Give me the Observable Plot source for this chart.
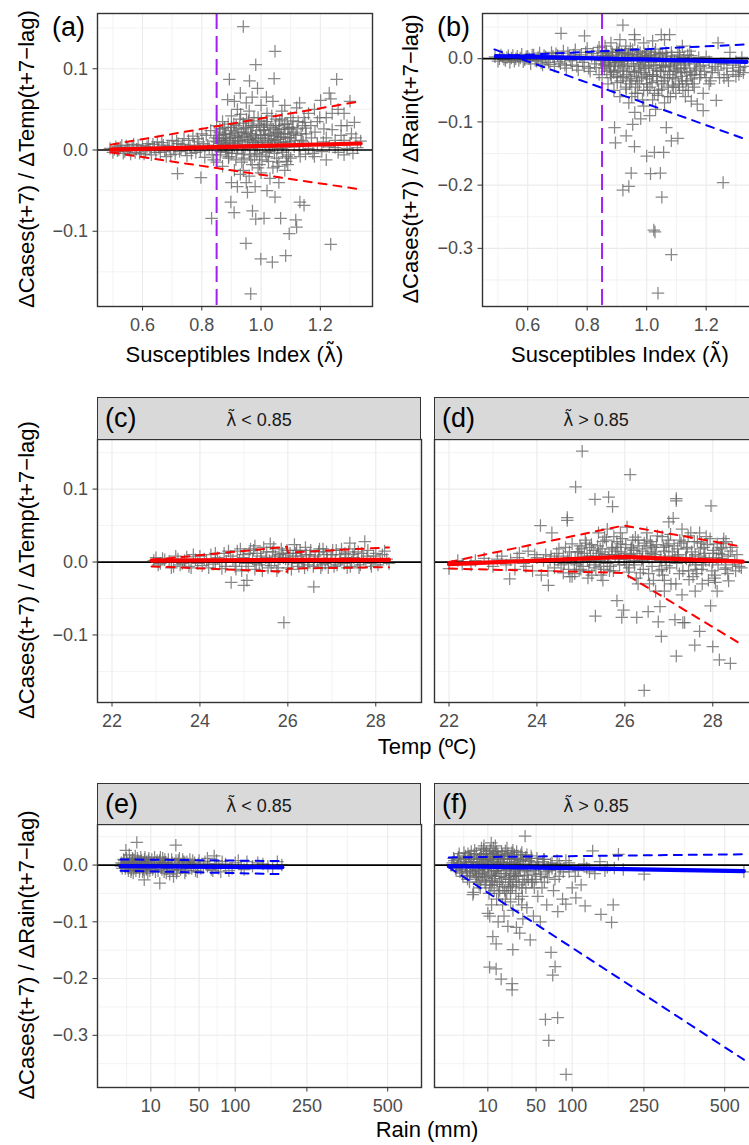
<!DOCTYPE html>
<html><head><meta charset="utf-8">
<script src="https://cdn.jsdelivr.net/npm/d3@7"></script>
<script src="https://cdn.jsdelivr.net/npm/@observablehq/plot@0.6"></script>
<style>
html,body{margin:0;padding:0;background:#fff;}
#fig{position:relative;width:749px;height:1145px;overflow:hidden;background:#fff;font-family:"Liberation Sans",Arial,Helvetica,sans-serif;}
.t{position:absolute;white-space:nowrap;line-height:1;color:#000;transform:translate(-50%,-50%);}
.rot{transform:translate(-50%,-50%) rotate(-90deg);}
.tag{position:absolute;white-space:nowrap;line-height:1;color:#000;transform:translateY(-50%);}
.strip{position:absolute;background:#D9D9D9;border:1.4px solid #333;box-sizing:border-box;}
.lam{font-family:"DejaVu Sans",sans-serif;font-size:0.95em;}
</style></head>
<body><div id="fig"></div>
<script>
// ---------- data ----------
const lamCut = [0.85];
// panel (a): susceptibles index vs dCases/dTemp
const ptsA = [[0.49,0.002],[0.50,-0.003],[0.51,0.004],[0.52,0.000],[0.53,0.006],[0.54,-0.002],[0.55,0.003],[0.56,-0.005],[0.57,0.007],[0.58,0.001],[0.59,-0.004],[0.60,0.005],[0.61,-0.001],[0.62,0.008],[0.63,-0.006],[0.64,0.003],[0.65,0.010],[0.66,-0.003],[0.67,0.006],[0.68,-0.008],[0.69,0.004],[0.70,0.012],[0.71,-0.005],[0.72,0.008],[0.718,-0.029],[0.73,0.002],[0.74,0.014],[0.75,-0.007],[0.76,0.005],[0.77,0.017],[0.78,-0.003],[0.79,0.010],[0.797,-0.034],[0.80,0.020],[0.81,-0.009],[0.82,0.006],[0.833,-0.084],[0.83,0.024],[0.84,-0.012],[0.84,0.011],
[0.85,0.030],[0.85,-0.015],[0.86,0.008],[0.86,0.022],[0.87,-0.020],[0.87,0.035],[0.88,0.003],[0.88,0.015],[0.887,0.062],[0.89,-0.010],[0.893,0.087],[0.90,0.028],[0.90,0.042],[0.898,-0.064],[0.909,-0.077],[0.91,0.005],[0.91,-0.025],[0.92,0.018],[0.92,0.050],[0.93,-0.030],[0.93,0.010],[0.94,0.152],[0.94,0.033],[0.94,-0.005],[0.949,-0.115],[0.95,0.022],[0.95,-0.040],[0.954,-0.052],[0.961,0.085],[0.96,0.013],[0.96,0.048],[0.965,-0.177],[0.97,-0.018],[0.971,-0.075],[0.97,0.028],[0.982,0.105],[0.98,0.003],[0.982,-0.085],[0.988,0.076],[0.99,0.040],[0.99,-0.022],[0.999,-0.134],[1.00,0.015],[1.00,0.055],[1.01,-0.084],[1.01,0.030],[1.018,0.065],[1.02,-0.008],[1.02,0.045],[1.03,0.020],[1.03,-0.035],[1.038,-0.138],[1.044,0.088],[1.047,0.1215],[1.047,-0.058],[1.05,0.010],[1.05,0.038],[1.06,-0.015],[1.06,0.025],[1.066,-0.084],[1.07,0.048],[1.07,0.002],[1.08,-0.025],[1.083,-0.130],[1.08,0.032],[1.09,0.015],[1.095,-0.103],[1.10,0.040],[1.10,-0.010],
[1.11,0.022],[1.117,-0.086],[1.12,-0.095],[1.12,0.052],[1.13,0.005],[1.131,-0.064],[1.145,-0.068],[1.14,0.030],[1.15,-0.005],[1.16,0.045],[1.17,0.015],[1.18,-0.008],[1.19,0.035],[1.201,0.061],[1.21,0.010],[1.22,-0.012],[1.22,0.040],[1.235,0.063],[1.235,-0.116],[1.24,0.025],[1.25,0.003],[1.255,0.087],[1.26,0.050],[1.27,0.018],[1.28,-0.006],[1.29,0.030],[1.30,0.008],[1.31,-0.004],[1.32,0.015],[1.336,0.011],
[0.855,0.004],[0.862,-0.006],[0.868,0.012],[0.875,0.019],[0.882,-0.003],[0.895,0.009],[0.905,0.016],[0.915,-0.012],[0.925,0.026],[0.935,0.001],[0.945,0.017],[0.955,0.006],[0.965,0.020],[0.975,0.009],[0.985,0.024],[0.995,-0.006],[1.005,0.003],[1.015,0.018],[1.025,0.007],[1.035,0.012],[1.045,-0.004],[1.055,0.021],[1.065,0.009],[1.075,0.016],[1.085,0.004],[1.095,0.026],[0.90,-0.040],[0.92,-0.045],[0.94,-0.025],[0.96,-0.032],[0.98,-0.045],[1.00,-0.028],[1.02,-0.050],[1.04,-0.022],[1.06,-0.040],[1.09,-0.018],[0.91,0.060],[0.93,0.070],[0.95,0.058],[0.97,0.065],[1.04,0.060],[1.08,0.055],[1.13,0.058],[1.15,0.027],[1.18,0.050],[1.23,0.070],[1.28,0.045],[1.30,0.060],
[0.505,0.001],[0.515,-0.001],[0.525,0.003],[0.535,-0.004],[0.545,0.005],[0.555,0.000],[0.565,0.003],[0.575,-0.003],[0.585,0.006],[0.595,0.000],[0.605,-0.005],[0.615,0.004],[0.625,0.001],[0.635,0.007],[0.645,-0.003],[0.655,0.002],[0.665,0.009],[0.675,-0.001],[0.685,0.005],[0.695,-0.006],[0.705,0.003],[0.715,0.011],[0.725,-0.002],[0.735,0.007],[0.745,0.000],[0.755,0.012],[0.765,-0.004],[0.775,0.006],[0.785,0.014],[0.795,-0.001],[0.805,0.008],[0.815,0.018],[0.825,0.002],[0.835,-0.006],[0.845,0.015],
[0.852,0.010],[0.858,0.018],[0.864,-0.002],[0.871,0.026],[0.878,0.007],[0.884,0.012],[0.891,-0.008],[0.897,0.020],[0.903,0.002],[0.908,0.032],[0.913,0.011],[0.918,-0.004],[0.923,0.015],[0.928,0.038],[0.933,0.021],[0.938,0.006],[0.943,-0.010],[0.948,0.028],[0.953,0.012],[0.958,0.036],[0.963,0.002],[0.968,0.016],[0.973,0.030],[0.978,-0.008],[0.983,0.014],[0.988,0.005],[0.993,0.032],[0.998,0.019],[1.003,-0.012],[1.008,0.025],[1.013,0.009],[1.018,0.035],[1.023,0.014],[1.028,-0.002],[1.033,0.028],[1.038,0.006],[1.043,0.017],[1.048,0.030],[1.053,-0.010],[1.058,0.013],[1.063,0.036],[1.068,0.020],[1.073,-0.003],[1.078,0.026],[1.083,0.010],[1.088,0.032],[1.093,-0.006],[1.098,0.015],[1.105,0.028],[1.112,0.004],[1.118,0.018],[1.125,0.035],[1.132,-0.008],[1.138,0.012],[1.145,0.040],[1.152,0.020],[1.16,0.002],[1.168,0.030],[1.175,-0.004],[1.182,0.022],[1.19,0.008],[1.198,0.040],[1.205,-0.002],[1.212,0.026],[1.22,0.015],[1.23,0.004],[1.24,0.045],[1.25,0.012],[1.26,-0.003],[1.27,0.030],[1.28,0.012],[1.29,0.002],[1.305,0.020],[1.315,0.034],[1.325,0.003],
[0.857,0.014],[0.861,0.026],[0.866,0.005],[0.873,0.010],[0.877,0.028],[0.881,0.020],[0.886,0.000],[0.889,0.032],[0.893,0.014],[0.899,0.024],[0.901,-0.004],[0.906,0.008],[0.911,0.022],[0.916,0.030],[0.921,0.003],[0.926,0.012],[0.931,0.044],[0.936,0.016],[0.941,0.026],[0.946,0.004],[0.951,0.038],[0.956,0.020],[0.961,-0.006],[0.966,0.030],[0.971,0.010],[0.976,0.040],[0.981,0.018],[0.986,-0.004],[0.991,0.012],[0.996,0.028],[1.001,0.036],[1.006,0.010],[1.011,0.024],[1.016,-0.003],[1.021,0.032],[1.026,0.018],[1.031,0.004],[1.036,0.042],[1.041,0.026],[1.046,0.012],[1.051,0.022],[1.056,0.002],[1.061,0.030],[1.066,0.016],[1.071,0.038],[1.076,0.006],[1.081,0.020],[1.086,-0.008],[1.091,0.028],[1.096,0.010],[1.102,0.020],[1.108,0.036],[1.115,0.012],[1.122,0.026],[1.128,0.000],[1.135,0.020],[1.142,0.010],[1.148,0.034],[0.935,-0.015],[0.965,-0.012],[0.995,-0.018],[1.025,-0.014],[1.055,-0.020],[1.085,-0.014]];
const fitA = [[0.493,0.0004],[1.336,0.008]];
const hiA = [[0.493,0.0066],[1.336,0.060]];
const loA = [[0.493,-0.003],[1.336,-0.0485]];

// panel (b): susceptibles index vs dCases/dRain
const ptsB = [[0.49,0.003],[0.50,-0.004],[0.51,0.006],[0.52,-0.001],[0.53,0.002],[0.54,-0.006],[0.55,0.005],[0.56,0.000],[0.57,-0.003],[0.58,0.007],[0.59,-0.002],[0.60,0.004],[0.61,-0.008],[0.62,0.006],[0.63,-0.004],[0.64,0.009],[0.65,-0.010],[0.66,0.003],[0.67,-0.006],[0.68,0.010],[0.69,-0.012],[0.70,0.005],[0.712,0.040],[0.71,-0.008],[0.72,0.012],[0.73,-0.015],[0.74,0.004],[0.75,-0.010],[0.76,0.014],[0.77,-0.018],[0.78,0.006],[0.791,0.036],[0.79,-0.012],[0.80,0.016],[0.81,-0.020],[0.82,0.008],[0.83,-0.014],[0.84,0.018],[0.84,-0.025],
[0.85,0.010],[0.85,-0.030],[0.86,0.020],[0.86,-0.008],[0.87,-0.040],[0.87,0.005],[0.88,0.025],[0.88,-0.018],[0.89,-0.050],[0.892,-0.109],[0.895,-0.133],[0.90,0.015],[0.90,-0.028],[0.91,-0.060],[0.91,0.030],[0.92,0.053],[0.92,-0.208],[0.92,-0.010],[0.93,-0.045],[0.931,-0.122],[0.93,0.020],[0.94,-0.202],[0.94,-0.070],[0.94,0.008],[0.948,-0.181],[0.95,-0.035],[0.953,-0.104],[0.959,-0.139],[0.959,0.038],[0.96,-0.020],[0.96,-0.085],[0.97,0.012],[0.97,-0.055],[0.98,-0.095],[0.98,-0.015],[0.99,0.025],[0.99,-0.075],[1.00,-0.154],[1.00,-0.040],[1.00,0.005],[1.01,-0.090],[1.013,-0.182],[1.02,-0.025],[1.02,-0.065],[1.024,-0.271],[1.028,-0.274],[1.026,-0.148],[1.03,0.015],[1.038,-0.371],[1.04,-0.050],[1.046,-0.181],[1.049,0.038],[1.05,-0.010],[1.051,-0.219],[1.057,-0.148],[1.06,-0.070],[1.066,-0.109],[1.07,-0.030],[1.077,0.038],[1.08,-0.005],[1.083,-0.130],[1.083,-0.310],[1.09,-0.045],[1.10,-0.020],[1.105,-0.126],
[1.11,0.010],[1.12,-0.035],[1.13,-0.008],[1.14,-0.050],[1.15,-0.067],[1.15,0.005],[1.16,-0.025],[1.17,-0.072],[1.18,-0.012],[1.19,-0.082],[1.20,0.003],[1.21,-0.040],[1.22,-0.015],[1.234,-0.066],[1.24,0.025],[1.25,-0.008],[1.257,-0.196],[1.26,-0.030],[1.27,-0.015],[1.28,0.010],[1.29,-0.020],[1.30,-0.005],[1.31,-0.025],[1.32,0.002],[1.33,-0.012],
[0.855,-0.003],[0.865,0.008],[0.875,-0.012],[0.885,0.004],[0.895,-0.006],[0.905,0.010],[0.915,-0.004],[0.925,0.006],[0.935,-0.012],[0.945,0.016],[0.955,-0.002],[0.965,0.007],[0.975,-0.008],[0.985,0.003],[0.995,-0.015],[1.005,0.012],[1.015,-0.006],[1.025,0.002],[1.035,-0.018],[1.045,0.008],[1.055,-0.004],[1.065,0.010],[1.075,-0.012],[1.085,0.004],[1.095,-0.008],[1.105,0.006],[1.115,-0.016],[1.125,0.002],[1.135,-0.022],[1.145,0.012],[0.92,-0.030],[0.95,-0.060],[0.97,-0.035],[0.99,-0.050],[1.01,-0.028],[1.03,-0.080],[1.05,-0.040],[1.08,-0.060],[1.11,-0.045],[1.13,-0.060],[1.16,-0.045],[1.19,-0.055],[0.96,0.030],[1.02,0.028],[1.06,0.030],[1.12,0.020],
[0.505,0.000],[0.515,0.003],[0.525,-0.003],[0.535,0.005],[0.545,0.001],[0.555,-0.004],[0.565,0.004],[0.575,0.001],[0.585,-0.005],[0.595,0.003],[0.605,0.000],[0.615,0.006],[0.625,-0.003],[0.635,0.002],[0.645,-0.007],[0.655,0.005],[0.665,0.000],[0.675,-0.009],[0.685,0.004],[0.695,0.008],[0.705,-0.005],[0.715,0.002],[0.725,-0.010],[0.735,0.009],[0.745,-0.003],[0.755,0.006],[0.765,-0.012],[0.775,0.003],[0.785,-0.006],[0.795,0.010],[0.805,-0.015],[0.815,0.004],[0.825,-0.008],[0.835,0.012],[0.845,-0.003],
[0.852,0.005],[0.858,-0.015],[0.864,0.012],[0.871,-0.006],[0.878,-0.025],[0.884,0.010],[0.891,-0.012],[0.897,0.002],[0.903,-0.020],[0.908,0.014],[0.913,-0.035],[0.918,0.000],[0.923,-0.015],[0.928,0.010],[0.933,-0.025],[0.938,0.004],[0.943,-0.040],[0.948,-0.008],[0.953,0.014],[0.958,-0.022],[0.963,-0.045],[0.968,0.002],[0.973,-0.018],[0.978,0.010],[0.983,-0.030],[0.988,-0.006],[0.993,0.008],[0.998,-0.025],[1.003,-0.050],[1.008,-0.010],[1.013,0.006],[1.018,-0.038],[1.023,-0.015],[1.028,0.010],[1.033,-0.028],[1.038,-0.058],[1.043,-0.005],[1.048,-0.020],[1.053,0.008],[1.058,-0.035],[1.063,-0.012],[1.068,0.004],[1.073,-0.045],[1.078,-0.020],[1.083,0.010],[1.088,-0.030],[1.093,-0.004],[1.098,-0.055],[1.105,-0.015],[1.112,0.004],[1.118,-0.028],[1.125,-0.010],[1.132,-0.040],[1.138,0.006],[1.145,-0.020],[1.152,-0.032],[1.16,-0.008],[1.168,-0.015],[1.175,0.002],[1.182,-0.025],[1.19,-0.010],[1.2,-0.030],[1.21,-0.005],[1.22,-0.022],[1.23,-0.012],[1.245,-0.030],[1.26,-0.008],[1.275,-0.035],[1.29,-0.010],[1.3,-0.028],[1.315,-0.014],[1.325,-0.022],
[0.857,-0.010],[0.861,0.004],[0.866,-0.020],[0.873,0.000],[0.877,-0.010],[0.881,-0.030],[0.886,0.006],[0.889,-0.022],[0.893,-0.008],[0.899,0.010],[0.901,-0.038],[0.906,-0.005],[0.911,-0.018],[0.916,0.008],[0.921,-0.028],[0.926,-0.004],[0.931,-0.048],[0.936,0.002],[0.941,-0.020],[0.946,-0.032],[0.951,0.006],[0.956,-0.012],[0.961,-0.055],[0.966,-0.028],[0.971,0.004],[0.976,-0.040],[0.981,-0.010],[0.986,-0.065],[0.991,-0.022],[0.996,0.002],[1.001,-0.032],[1.006,-0.012],[1.011,-0.045],[1.016,0.004],[1.021,-0.028],[1.026,-0.055],[1.031,-0.010],[1.036,-0.035],[1.041,0.006],[1.046,-0.020],[1.051,-0.048],[1.056,-0.014],[1.061,-0.030],[1.066,-0.002],[1.071,-0.060],[1.076,-0.025],[1.081,-0.010],[1.086,-0.042],[1.091,-0.018],[1.096,-0.032],[1.102,-0.006],[1.108,-0.040],[1.115,-0.022],[1.122,-0.050],[1.128,-0.015],[1.135,-0.035],[1.142,-0.004],[1.148,-0.026],[1.155,-0.040],[1.165,-0.018],[1.178,-0.030],[1.195,-0.020],[1.215,-0.035],[1.24,-0.018],[1.27,-0.025],[1.31,-0.018]];
const fitB = [[0.493,0.004],[1.336,-0.005]];
const hiB = [[0.493,0.004],[1.336,0.0226]];
const loB = [[0.488,0.0147],[1.33,-0.127]];

// panel (c): temperature vs dCases/dTemp, lambda < 0.85
const ptsC = [[22.95,0.002],[23.05,-0.004],[23.15,0.005],[23.3,0.001],[23.4,-0.006],[23.5,0.004],[23.6,-0.002],[23.7,0.007],[23.8,-0.008],[23.9,0.003],[24.0,0.008],[24.05,-0.005],[24.15,0.002],[24.25,0.010],[24.3,-0.003],[24.4,0.006],[24.5,-0.009],[24.55,0.012],[24.6,0.001],[24.71,-0.028],[24.7,0.008],[24.8,-0.006],[24.85,0.015],[24.9,0.002],[24.95,-0.012],[25.0,-0.032],[25.07,-0.025],[25.0,0.010],[25.05,-0.002],[25.15,0.018],[25.2,0.004],[25.25,-0.010],[25.3,0.012],[25.35,-0.004],[25.45,0.020],[25.5,0.006],[25.55,-0.008],[25.6,0.025],[25.65,0.014],[25.7,0.002],[25.75,-0.012],[25.8,0.010],[25.85,0.018],[25.91,-0.083],[25.95,0.004],[26.0,-0.008],[26.05,0.012],[26.1,0.002],[26.2,0.016],[26.25,-0.006],[26.3,0.008],[26.4,0.020],[26.45,-0.004],[26.5,0.010],[26.59,-0.034],[26.6,0.002],[26.7,0.014],[26.75,-0.008],[26.8,0.018],[26.9,0.004],[27.0,0.010],[27.05,-0.006],[27.1,0.016],[27.2,0.002],[27.3,0.012],[27.35,-0.008],[27.41,0.026],[27.5,0.006],[27.6,0.014],[27.65,-0.004],[27.75,0.028],[27.8,0.008],[27.9,-0.006],[28.0,0.012],[28.1,0.003],[28.2,0.015],[28.3,-0.002],[25.4,0.002],[25.9,0.006],[26.35,0.000],[26.85,-0.002],[27.45,0.000],[24.35,0.000],[25.25,0.022],[26.15,0.024],
[23.0,0.006],[23.1,-0.002],[23.2,0.003],[23.35,-0.008],[23.45,0.008],[23.55,-0.004],[23.65,0.002],[23.75,-0.006],[23.85,0.010],[23.95,-0.002],[24.1,0.004],[24.2,-0.008],[24.35,0.012],[24.45,0.000],[24.58,-0.006],[24.65,0.015],[24.75,0.003],[24.82,-0.010],[24.92,0.018],[24.98,0.006],[25.1,-0.006],[25.12,0.012],[25.22,0.016],[25.28,-0.002],[25.38,0.008],[25.42,-0.012],[25.52,0.014],[25.58,0.002],[25.62,-0.005],[25.68,0.020],[25.72,0.008],[25.78,-0.008],[25.82,0.004],[25.88,0.012],[25.98,0.016],[26.02,0.004],[26.08,-0.010],[26.12,0.008],[26.18,0.012],[26.22,-0.002],[26.28,0.016],[26.32,0.004],[26.38,-0.008],[26.42,0.010],[26.48,0.002],[26.52,0.016],[26.58,-0.006],[26.62,0.008],[26.68,0.002],[26.72,0.018],[26.78,-0.004],[26.82,0.010],[26.88,0.014],[26.92,-0.008],[26.98,0.004],[27.02,0.016],[27.08,0.002],[27.12,-0.004],[27.18,0.010],[27.22,0.018],[27.28,-0.002],[27.32,0.006],[27.38,0.014],[27.42,-0.006],[27.48,0.010],[27.52,0.018],[27.58,0.000],[27.62,-0.008],[27.68,0.012],[27.72,0.004],[27.82,0.016],[27.88,-0.002],[27.95,0.008],[28.05,-0.004],[28.15,0.010],[28.25,0.004]];
const fitC = [[22.9,0.002],[26.0,0.003],[28.3,0.003]];
const hiC = [[22.9,0.003],[25.98,0.021],[26.0,0.013],[28.3,0.020]];
const loC = [[22.9,-0.006],[25.98,-0.0135],[26.0,-0.009],[28.3,-0.007]];

// panel (d): temperature vs dCases/dTemp, lambda > 0.85
const ptsD = [[22.0,-0.009],[22.2,0.002],[22.5,-0.004],[22.8,0.005],[23.0,-0.006],[23.2,0.008],[23.38,-0.023],[23.4,0.003],[23.5,-0.010],[23.6,0.012],[23.7,-0.002],[23.8,0.015],[23.9,-0.012],[24.0,0.006],[24.08,0.050],[24.1,-0.018],[24.2,0.010],[24.26,-0.032],[24.3,0.002],[24.34,0.040],[24.4,-0.008],[24.5,0.018],[24.6,-0.015],[24.69,0.061],[24.69,0.057],[24.7,0.005],[24.75,-0.020],[24.8,0.025],[24.88,0.103],[24.9,-0.004],[24.95,0.014],[25.03,0.152],[25.0,-0.010],[25.1,0.030],[25.15,0.002],[25.2,0.020],[25.25,-0.018],[25.32,0.086],[25.33,-0.074],[25.35,0.008],[25.4,0.040],[25.45,-0.006],[25.5,0.028],[25.55,0.010],[25.6,0.045],[25.63,0.089],[25.65,-0.012],[25.7,0.018],[25.72,0.076],[25.75,0.035],[25.82,-0.053],[25.85,0.004],[25.9,0.025],[25.93,-0.076],[25.97,-0.066],[26.0,0.012],[26.05,0.048],[26.1,-0.008],[26.12,0.120],[26.15,0.020],[26.2,0.002],[26.27,-0.076],[26.3,0.030],[26.35,-0.015],[26.4,0.015],[26.44,-0.176],[26.5,0.040],[26.53,-0.068],[26.55,0.005],[26.6,0.022],[26.65,-0.025],[26.7,0.010],[26.76,-0.082],[26.8,-0.061],[26.83,-0.102],[26.85,0.035],[26.9,-0.040],[26.9,0.015],[26.95,-0.005],[27.0,0.025],[27.0,0.055],[27.05,-0.030],[27.1,0.060],[27.14,-0.079],[27.17,0.087],[27.17,0.084],[27.17,-0.129],[27.2,0.008],[27.25,0.030],[27.32,-0.083],[27.36,-0.083],[27.4,0.018],[27.45,-0.012],[27.5,0.040],[27.55,-0.020],[27.59,-0.114],[27.6,0.010],[27.65,0.028],[27.7,-0.095],[27.75,-0.010],[27.8,0.020],[27.85,0.035],[27.9,-0.025],[27.95,-0.060],[27.96,0.077],[28.0,-0.116],[28.0,0.012],[28.05,-0.018],[28.1,0.025],[28.15,-0.134],[28.2,0.005],[28.25,0.032],[28.3,-0.008],[28.4,-0.139],[28.4,0.015],[28.5,0.002],[28.65,-0.008],
[25.0,0.005],[25.2,0.000],[25.4,0.012],[25.6,-0.002],[25.8,0.015],[26.0,0.000],[26.2,0.016],[26.4,0.004],[26.6,0.012],[26.8,0.002],[27.0,0.008],[27.2,0.018],[27.4,0.004],[27.6,-0.004],[27.8,0.006],[28.0,0.000],[28.2,0.018],[24.6,0.008],[24.4,0.004],[26.3,-0.030],[26.7,-0.040],[27.3,-0.045],[27.6,-0.040],[28.1,-0.040],[26.9,-0.025],[25.5,-0.025],[24.8,-0.020],[25.9,0.040],[26.5,0.030],[27.3,0.045],[27.7,0.040],[28.3,0.028],
[22.3,-0.003],[22.6,0.002],[22.9,-0.002],[23.1,0.004],[23.3,-0.004],[23.55,0.006],[23.75,-0.006],[23.95,0.010],[24.15,0.002],[24.25,-0.012],[24.45,0.012],[24.55,-0.004],[24.65,0.020],[24.72,-0.010],[24.78,0.006],[24.85,-0.002],[24.92,0.014],[24.98,0.022],[25.05,-0.006],[25.08,0.012],[25.12,0.026],[25.18,-0.012],[25.22,0.008],[25.28,0.016],[25.3,-0.004],[25.38,0.022],[25.42,0.002],[25.48,0.014],[25.52,-0.010],[25.58,0.030],[25.62,0.006],[25.68,-0.006],[25.72,0.020],[25.78,0.010],[25.82,0.028],[25.88,-0.004],[25.92,0.014],[25.98,0.004],[26.02,0.024],[26.08,-0.014],[26.12,0.010],[26.18,0.030],[26.22,-0.004],[26.28,0.012],[26.32,0.022],[26.38,0.002],[26.42,-0.010],[26.48,0.018],[26.52,0.008],[26.58,0.028],[26.62,-0.006],[26.68,0.014],[26.72,0.024],[26.78,-0.012],[26.82,0.006],[26.88,0.020],[26.92,0.004],[26.98,0.030],[27.02,-0.008],[27.08,0.014],[27.12,0.022],[27.18,-0.002],[27.22,0.010],[27.28,0.026],[27.32,-0.012],[27.38,0.006],[27.42,0.020],[27.48,0.002],[27.52,0.014],[27.58,0.028],[27.62,-0.010],[27.68,0.008],[27.72,0.018],[27.78,-0.004],[27.82,0.012],[27.88,0.024],[27.92,0.002],[27.98,-0.012],[28.02,0.016],[28.08,0.006],[28.12,-0.004],[28.18,0.020],[28.22,0.010],[28.28,-0.010],[28.35,0.008],[28.45,-0.004],[28.55,0.010],[28.6,-0.006],
[24.32,0.008],[24.48,0.002],[24.62,-0.002],[24.74,0.014],[24.87,0.006],[24.96,-0.012],[25.02,0.018],[25.14,0.008],[25.24,0.024],[25.34,-0.008],[25.44,0.018],[25.54,0.034],[25.64,0.010],[25.74,-0.012],[25.84,0.020],[25.94,0.032],[26.04,-0.004],[26.14,0.018],[26.24,0.034],[26.34,0.008],[26.44,0.026],[26.54,-0.016],[26.64,0.020],[26.74,0.036],[26.84,-0.010],[26.94,0.022],[27.04,0.038],[27.14,0.006],[27.24,-0.016],[27.34,0.028],[27.44,0.036],[27.54,0.004],[27.64,-0.016],[27.74,0.026],[27.84,0.002],[27.94,0.032],[28.04,-0.022],[28.14,0.012],[28.24,0.026],[28.34,-0.016],[28.44,0.020],[28.52,-0.012],[26.26,-0.022],[26.56,-0.030],[26.86,-0.018],[27.16,-0.030],[27.46,-0.024],[27.76,-0.030],[28.06,-0.028],[28.36,-0.026],[25.46,-0.018],[25.16,-0.022],[24.86,-0.016]];
const fitD = [[22.0,-0.003],[25.97,0.007],[28.68,0.0005]];
const hiD = [[22.0,0.0],[25.97,0.050],[28.68,0.021]];
const loD = [[22.0,-0.009],[25.97,-0.015],[28.68,-0.114]];

// panel (e): rain vs dCases/dRain, lambda < 0.85
const ptsE = [[0.6,0.004],[0.7,-0.006],[0.9,0.010],[1.1,-0.002],[1.3,0.026],[1.5,0.006],[1.8,-0.010],[2.0,0.018],[2.2,0.002],[2.5,-0.008],[2.8,0.012],[3.0,-0.014],[3.3,0.004],[3.6,0.016],[4.1,0.040],[4.0,-0.004],[4.5,0.008],[5.0,-0.012],[5.5,0.014],[6.0,0.002],[6.9,-0.026],[6.5,-0.008],[7.0,0.010],[7.5,-0.002],[8.0,0.006],[8.5,-0.014],[9.0,0.012],[10.0,0.000],[11,-0.008],[12,0.014],[13,0.003],[14,-0.010],[15.1,-0.032],[15,0.008],[16,-0.004],[17,0.012],[18,-0.012],[19,0.005],[20,-0.006],[21,0.010],[22,-0.016],[24,0.004],[25,-0.020],[26.9,0.035],[27,0.008],[28,-0.008],[30,0.012],[32,-0.004],[34,0.006],[36,-0.010],[38,0.002],[40,0.010],[42,-0.006],[45,0.004],[48,-0.012],[50,0.008],[55,-0.004],[60,0.012],[65,-0.008],[68.8,0.016],[70,0.002],[75,-0.006],[80,0.006],[90,-0.010],[100,0.004],[110,-0.004],[120,0.006],[130,-0.002],[150,0.002],[170,-0.006],[190,0.000],[3,0.000],[5,0.004],[8,-0.006],[12,-0.002],[18,0.004],[23,0.000],[29,-0.002],[35,0.004],[44,-0.002],[60,-0.002],
[0.55,-0.002],[0.8,0.002],[1.0,0.008],[1.2,-0.006],[1.4,0.012],[1.7,0.002],[1.9,-0.004],[2.1,0.008],[2.4,-0.012],[2.6,0.004],[2.9,0.010],[3.2,-0.006],[3.5,0.002],[3.8,-0.010],[4.3,0.012],[4.8,0.002],[5.2,-0.006],[5.8,0.008],[6.2,-0.012],[6.8,0.004],[7.2,0.014],[7.8,-0.008],[8.2,0.002],[8.8,0.008],[9.5,-0.010],[10.5,0.010],[11.5,0.004],[12.5,-0.012],[13.5,0.008],[14.5,-0.002],[15.5,0.014],[16.5,-0.008],[17.5,0.004],[18.5,0.010],[19.5,-0.014],[20.5,0.002],[21.5,-0.004],[23.5,0.010],[24.5,-0.010],[26,0.002],[27.5,-0.014],[29,0.008],[31,-0.008],[33,0.010],[35,-0.014],[37,0.006],[39,-0.006],[41,0.002],[43,0.008],[46,-0.010],[49,0.002],[52,-0.006],[57,0.006],[62,0.002],[67,-0.010],[72,0.008],[78,-0.012],[85,0.002],[95,-0.006],[105,0.008],[115,-0.008],[140,0.004],[160,-0.002],[180,0.006]];
const fitE = [[0.5,-0.002],[191,-0.004]];
const hiE = [[0.5,0.010],[191,0.007]];
const loE = [[0.5,-0.010],[191,-0.016]];

// panel (f): rain vs dCases/dRain, lambda > 0.85
const ptsF = [[0.1,0.004],[0.3,-0.006],[0.5,0.010],[0.8,-0.012],[1.0,0.002],[1.3,-0.020],[1.6,0.012],[2.0,-0.005],[2.3,-0.025],[2.7,0.015],[3.0,-0.010],[3.5,0.006],[3.8,-0.052],[4.0,-0.048],[4.5,-0.015],[5.0,0.020],[5.5,-0.030],[6.0,0.004],[6.5,-0.040],[7.0,0.010],[7.5,-0.020],[8.0,0.028],[8.5,-0.008],[9.0,-0.035],[9.5,0.015],[10.0,-0.085],[10.5,0.002],[10.9,-0.180],[11.0,-0.090],[11.8,0.039],[12.0,-0.018],[12.7,-0.126],[13.0,0.010],[13.5,-0.045],[14.0,0.022],[14.7,-0.139],[14.7,-0.183],[15.0,-0.060],[15.5,-0.005],[16.0,0.016],[17.0,-0.030],[18.0,-0.201],[18.0,0.006],[19,-0.070],[20,-0.015],[21,0.025],[22,-0.050],[22.9,-0.108],[24,0.004],[25,-0.035],[26.3,-0.209],[26.3,-0.220],[26.9,-0.149],[27,-0.080],[28,0.012],[29,-0.020],[30,-0.110],[31,0.000],[32,-0.060],[33,-0.120],[34,0.018],[35,-0.040],[36,-0.095],[38.2,0.051],[38,-0.010],[40,-0.075],[42,0.008],[43.5,-0.132],[45,-0.030],[47,-0.090],[50,-0.005],[52,-0.055],[55,-0.100],[58,0.006],[60,-0.030],[61.3,-0.272],[63,-0.070],[65.6,-0.309],[66,-0.010],[68.6,-0.154],[70.9,-0.194],[72,-0.045],[74.2,-0.179],[75,-0.008],[77.8,-0.269],[78,-0.082],[80,-0.020],[85,-0.060],[90,-0.069],[90.3,-0.369],[95,-0.012],[100,-0.040],[106,-0.058],[110,-0.010],[115,-0.035],[122,-0.072],[125,-0.005],[135.9,0.025],[140,-0.015],[152,-0.087],[160,-0.010],[174,-0.101],[177.5,-0.070],[180,-0.005],[189,0.019],[200,-0.008],[250.7,-0.016],[572,-0.012],
[2,0.000],[4,0.006],[6,-0.010],[8,0.000],[10,0.008],[12,-0.004],[14,-0.012],[16,0.000],[18,-0.020],[20,0.010],[22,-0.008],[24,-0.025],[26,0.002],[28,-0.015],[30,0.006],[33,-0.004],[36,0.010],[40,-0.018],[44,0.000],[48,-0.040],[52,0.004],[56,-0.020],[60,0.010],[65,-0.005],[70,0.004],[80,0.002],[90,0.008],[3,0.014],[5,-0.022],[7,0.030],[9,0.020],[11,-0.030],[13,0.030],[15,0.024],[17,-0.045],[19,0.018],[21,-0.060],[23,0.020],[25,-0.045],[27,0.026],[30,-0.030],[35,0.022],[40,0.018],[45,0.012],[50,-0.025],[20,-0.090],[25,-0.065],[35,-0.070],[12,-0.070],[16,-0.100],
[0.05,0.000],[0.2,0.008],[0.4,-0.004],[0.6,0.014],[0.9,0.004],[1.1,-0.008],[1.4,0.006],[1.8,0.016],[2.1,-0.012],[2.5,0.004],[2.9,-0.018],[3.2,0.010],[3.6,-0.004],[4.2,0.018],[4.7,-0.008],[5.2,0.004],[5.8,-0.016],[6.2,0.012],[6.8,-0.026],[7.2,0.002],[7.8,0.020],[8.2,-0.014],[8.8,0.006],[9.2,-0.022],[9.8,0.010],[10.2,-0.004],[10.8,0.018],[11.2,-0.040],[11.5,0.004],[12.3,0.014],[12.5,-0.028],[13.2,-0.010],[13.8,0.006],[14.3,-0.020],[14.8,0.012],[15.3,-0.034],[15.8,0.002],[16.5,-0.015],[17.5,0.010],[18.5,-0.030],[19.5,0.004],[20.5,-0.045],[21.5,-0.010],[22.5,0.012],[23.5,-0.025],[24.5,-0.005],[25.5,0.015],[26.5,-0.038],[27.5,-0.012],[28.5,0.004],[29.5,-0.050],[30.5,-0.020],[31.5,0.010],[32.5,-0.035],[33.5,-0.008],[35.5,-0.055],[36.5,0.002],[37.5,-0.025],[39,-0.040],[41,-0.012],[43,0.006],[46,-0.030],[49,-0.016],[53,-0.004],[57,-0.040],[62,-0.012],[68,0.002],[74,-0.025],[82,-0.006],[95,0.004],[105,-0.020],[120,0.002],[130,-0.012],[150,0.006],[165,-0.004],
[0.15,0.012],[0.35,-0.010],[0.7,0.020],[1.2,-0.014],[1.5,0.022],[1.9,-0.002],[2.4,0.020],[2.8,-0.030],[3.3,0.024],[3.9,-0.012],[4.4,0.026],[4.9,-0.020],[5.4,0.010],[6.0,-0.034],[6.6,0.018],[7.4,-0.012],[8.1,0.034],[8.6,-0.028],[9.3,0.024],[10.1,-0.016],[10.6,-0.050],[11.3,0.026],[12.1,-0.036],[12.8,0.020],[13.6,-0.024],[14.2,0.034],[14.9,-0.010],[15.7,0.018],[16.3,-0.050],[17.2,0.004],[18.2,0.024],[19.2,-0.038],[20.2,0.016],[21.2,-0.022],[22.2,0.030],[23.2,-0.040],[24.2,0.010],[25.2,-0.018],[26.2,0.022],[27.2,-0.030],[28.2,0.018],[29.2,-0.008],[30.2,0.024],[32,-0.018],[34,0.008],[36,-0.030],[38.5,0.014],[41.5,-0.026],[44.5,0.016],[47.5,-0.010],[51,0.012],[55,-0.016],[59,0.010],[64,-0.022],[70,-0.006],[77,0.008],[86,-0.012]];
const fitF = [[0,-0.002],[572,-0.0105]];
const hiF = [[0,0.0135],[572,0.019]];
const loF = [[0,-0.004],[572,-0.343]];

// ticks
const lamTicks = [0.6,0.8,1.0,1.2], lamMinor = [0.5,0.7,0.9,1.1,1.3];
const tempTicks = [22,24,26,28], tempMinor = [23,25,27,29];
const rainTicks = [10,50,100,250,500], rainMinor = [1.454,26.18,72.86,166.6,364.3];
const yTempTicks = [-0.1,0,0.1], yTempMinor = [-0.15,-0.05,0.05,0.15];
const yRainTicks = [-0.3,-0.2,-0.1,0], yRainMinor = [-0.35,-0.25,-0.15,-0.05,0.05];

// ---------- drawing ----------
const fig = document.getElementById("fig");
const f1 = d3.format(".1f"), f0 = d3.format("d");
const FONT = "Liberation Sans, Arial, Helvetica, sans-serif";

function panel(o) {
  const mL = 92, mR = 4, mT = 4, mB = 40;
  const W = o.fr - o.fl + mL + mR, H = o.fb - o.ft + mT + mB;
  const P = d => d[0], Q = d => d[1];
  const marks = [
    Plot.ruleX(o.xMinor, {stroke:"#EBEBEB", strokeWidth:0.6}),
    Plot.ruleY(o.yMinor, {stroke:"#EBEBEB", strokeWidth:0.6}),
    Plot.ruleX(o.xTicks, {stroke:"#EBEBEB", strokeWidth:1.1}),
    Plot.ruleY(o.yTicks, {stroke:"#EBEBEB", strokeWidth:1.1}),
    Plot.dot(o.pts, {x:P, y:Q, symbol:"plus", r:4.1, fill:"none", stroke:"#666666", strokeOpacity:0.78, strokeWidth:1.25}),
    Plot.ruleY([0], {stroke:"#000", strokeWidth:1.7})
  ];
  if (o.vline) marks.push(Plot.ruleX(o.vline, {stroke:"#A020F0", strokeWidth:2, strokeDasharray:"16,7"}));
  for (const l of o.dashes) marks.push(Plot.line(l, {x:P, y:Q, stroke:o.color, strokeWidth:2, strokeDasharray:"8,7"}));
  marks.push(Plot.line(o.fit, {x:P, y:Q, stroke:o.color, strokeWidth:4.2}));
  marks.push(Plot.frame({stroke:"#333333", strokeWidth:1.4}));
  marks.push(Plot.axisX(o.xTicks, {tickSize:4.5, tickPadding:7, fontSize:18, stroke:"#333333", color:"#4D4D4D", tickFormat:o.xFmt, label:null}));
  if (o.yAxis) marks.push(Plot.axisY(o.yTicks, {tickSize:4.5, tickPadding:5, fontSize:18, stroke:"#333333", color:"#4D4D4D", tickFormat:f1, label:null}));
  const svg = Plot.plot({
    width:W, height:H, marginLeft:mL, marginRight:mR, marginTop:mT, marginBottom:mB,
    style:{background:"transparent", fontFamily:FONT, overflow:"visible"},
    x:{type:o.xType || "linear", domain:o.xDomain, axis:null},
    y:{domain:o.yDomain, axis:null},
    marks
  });
  svg.style.position = "absolute";
  svg.style.left = (o.fl - mL) + "px";
  svg.style.top = (o.ft - mT) + "px";
  svg.style.maxWidth = "none";
  fig.appendChild(svg);
}

const LAM = '<span class="lam">λ\u0303</span>';
function text(html, x, y, size, cls, extra) {
  const d = document.createElement("div");
  d.className = cls;
  d.innerHTML = html;
  d.style.left = x + "px"; d.style.top = y + "px"; d.style.fontSize = size + "px";
  if (extra) Object.assign(d.style, extra);
  fig.appendChild(d);
}
function strip(fl, fr, top, bottom, tag, label) {
  const s = document.createElement("div");
  s.className = "strip";
  s.style.left = fl + "px"; s.style.top = top + "px";
  s.style.width = (fr - fl) + "px"; s.style.height = (bottom - top + 1) + "px";
  fig.appendChild(s);
  text(tag, fl + 8, (top + bottom) / 2, 27, "tag");
  text(label, (fl + fr) / 2, (top + bottom) / 2 + 2, 18, "t", {color:"#1A1A1A"});
}

const lamDom = [0.448, 1.376], tempDom = [21.67, 29.04], rainDom = [-1.35, 630];
const yTempDom = [-0.1926, 0.168], yRainDom = [-0.392, 0.0715];

// row 1
panel({fl:97, fr:372, ft:13, fb:306, xDomain:lamDom, yDomain:yTempDom, xTicks:lamTicks, xMinor:lamMinor, yTicks:yTempTicks, yMinor:yTempMinor, xFmt:f1, yAxis:true, pts:ptsA, fit:fitA, dashes:[hiA, loA], color:"#FF0000", vline:lamCut});
panel({fl:482, fr:758, ft:13, fb:306, xDomain:lamDom, yDomain:yRainDom, xTicks:lamTicks, xMinor:lamMinor, yTicks:yRainTicks, yMinor:yRainMinor, xFmt:f1, yAxis:true, pts:ptsB, fit:fitB, dashes:[hiB, loB], color:"#0000FF", vline:lamCut});
// row 2
panel({fl:97, fr:421, ft:439, fb:702, xDomain:tempDom, yDomain:yTempDom, xTicks:tempTicks, xMinor:tempMinor, yTicks:yTempTicks, yMinor:yTempMinor, xFmt:f0, yAxis:true, pts:ptsC, fit:fitC, dashes:[hiC, loC], color:"#FF0000"});
panel({fl:434, fr:758, ft:439, fb:702, xDomain:tempDom, yDomain:yTempDom, xTicks:tempTicks, xMinor:tempMinor, yTicks:yTempTicks, yMinor:yTempMinor, xFmt:f0, yAxis:false, pts:ptsD, fit:fitD, dashes:[hiD, loD], color:"#FF0000"});
// row 3
panel({fl:97, fr:421, ft:824, fb:1087, xType:"sqrt", xDomain:rainDom, yDomain:yRainDom, xTicks:rainTicks, xMinor:rainMinor, yTicks:yRainTicks, yMinor:yRainMinor, xFmt:f0, yAxis:true, pts:ptsE, fit:fitE, dashes:[hiE, loE], color:"#0000FF"});
panel({fl:434, fr:758, ft:824, fb:1087, xType:"sqrt", xDomain:rainDom, yDomain:yRainDom, xTicks:rainTicks, xMinor:rainMinor, yTicks:yRainTicks, yMinor:yRainMinor, xFmt:f0, yAxis:false, pts:ptsF, fit:fitF, dashes:[hiF, loF], color:"#0000FF"});

// strips
const lt = LAM + " &lt; 0.85", gt = LAM + " &gt; 0.85";
strip(97, 421, 397, 439, "(c)", lt);
strip(434, 758, 397, 439, "(d)", gt);
strip(97, 421, 783, 824, "(e)", lt);
strip(434, 758, 783, 824, "(f)", gt);

// titles
const yT = "ΔCases(t+7) / ΔTemp(t+7−lag)", yR = "ΔCases(t+7) / ΔRain(t+7−lag)";
text(yT, 27, 159, 22, "t rot");
text(yR, 411, 159, 22, "t rot");
text(yT, 27, 570, 22, "t rot");
text(yR, 27, 955, 22, "t rot");
text("Susceptibles Index (" + LAM + ")", 234.5, 355, 22, "t");
text("Susceptibles Index (" + LAM + ")", 620, 355, 22, "t");
text("Temp (ºC)", 427, 747, 22, "t");
text("Rain (mm)", 427, 1130, 22, "t");
text("(a)", 52, 27, 27, "tag");
text("(b)", 437, 27, 27, "tag");
</script>
</body></html>
